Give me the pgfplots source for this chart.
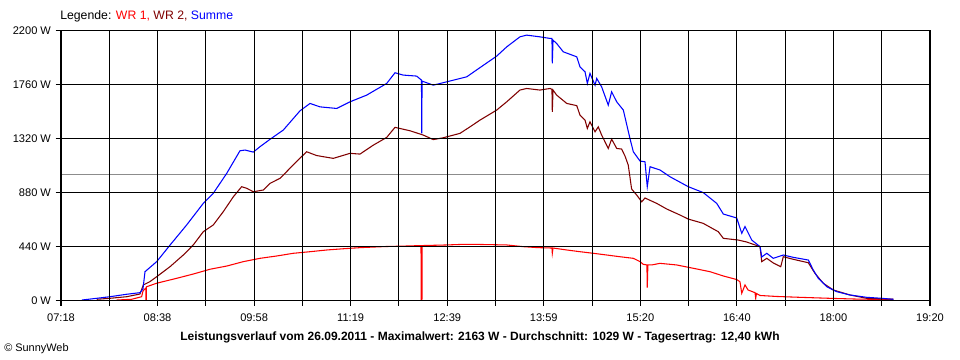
\documentclass[border=0pt]{standalone}
\usepackage{fontspec}
\setmainfont{Liberation Sans}
\usepackage{pgfplots}
\pgfplotsset{compat=1.18}
\definecolor{wrone}{RGB}{255,0,0}
\definecolor{wrtwo}{RGB}{128,0,0}
\definecolor{summe}{RGB}{0,0,255}
\definecolor{avggray}{RGB}{140,140,140}
\begin{document}
\begin{tikzpicture}
\useasboundingbox (0,0) rectangle (720pt,270pt);
\fill[white] (0,0) rectangle (720pt,270pt);
\begin{axis}[
  at={(45.75pt,44.8pt)}, anchor=south west,
  scale only axis, width=651.75pt, height=202.35pt,
  xmin=438, xmax=1160, ymin=0, ymax=2200,
  xtick={438,478.11,518.22,558.33,598.44,638.56,678.67,718.78,758.89,799,839.11,879.22,919.33,959.44,999.56,1039.67,1079.78,1119.89,1160},
  xticklabels={07:18,,08:38,,09:58,,11:19,,12:39,,13:59,,15:20,,16:40,,18:00,,19:20},
  ytick={0,440,880,1320,1760,2200},
  yticklabels={0 W,440 W,880 W,1320 W,1760 W,2200 W},
  grid=major, major grid style={black, line width=0.8pt},
  axis line style={black, line width=0.8pt},
  tick align=outside, major tick length=4pt,
  tick style={black, line width=0.8pt},
  xtick pos=left, ytick pos=left,
  xticklabel style={font=\fontsize{8.3}{9}\selectfont, yshift=-2.5pt},
  yticklabel style={font=\fontsize{8.3}{9}\selectfont},
  axis on top,
  clip=true,
]
\addplot[avggray, line width=0.8pt] coordinates {(438,1029) (1160,1029)};
\addplot[wrone, line width=0.8pt, sharp plot] coordinates {
(484.3,2) (496.7,8) (505.0,29) (506.1,75) (508.5,100) (508.6,0) (508.8,0) (509.0,110) (517.5,139) (534.1,179) (547.9,214) (561.8,253) (575.7,279) (589.5,315) (603.3,342) (617.2,361) (631.0,383) (644.9,396) (658.8,410) (672.5,420) (686.4,429) (707.2,438) (723.8,442) (737.1,446) (737.3,0) (737.9,0) (738.1,446) (758.4,451) (769.5,455) (786.1,455) (808.3,451) (822.1,437) (834.6,429) (845.9,426) (846.2,383) (846.8,426) (858.2,410) (869.2,396) (880.3,383) (891.4,369) (902.4,355) (913.5,342) (919.1,315) (921.8,293) (924.8,288) (925.1,103) (925.6,288) (928.8,288) (935.7,301) (949.5,288) (963.3,261) (977.2,233) (988.3,198) (999.4,169) (1002.1,151) (1003.6,57) (1006.3,125) (1008.8,84) (1014.6,62) (1015.2,16) (1015.8,55) (1018.8,39) (1032.6,31) (1052.0,24) (1079.6,15) (1101.8,9) (1129.3,7)
};
\addplot[wrtwo, line width=0.8pt, sharp plot] coordinates {
(467.7,8) (478.7,16) (492.6,29) (503.6,51) (506.4,125) (511.9,152) (517.5,192) (528.6,274) (539.6,369) (547.9,451) (556.2,559) (564.5,614) (572.8,722) (581.2,844) (588.1,926) (592.3,913) (597.8,885) (606.1,899) (611.6,953) (619.9,994) (628.2,1076) (636.6,1159) (642.1,1211) (650.4,1180) (664.2,1157) (678.1,1198) (686.4,1192) (697.5,1265) (708.6,1328) (715.5,1410) (728.0,1382) (739.0,1347) (747.3,1310) (755.6,1325) (769.5,1361) (777.8,1414) (786.1,1469) (800.0,1551) (808.3,1618) (819.3,1714) (824.9,1727) (835.9,1714) (844.3,1727) (845.9,1720) (846.2,1537) (846.8,1714) (849.8,1673) (858.2,1605) (866.5,1587) (869.2,1510) (873.4,1469) (875.3,1401) (877.5,1455) (881.7,1374) (884.4,1414) (887.2,1347) (892.7,1238) (895.5,1314) (899.7,1238) (903.8,1233) (906.6,1176) (909.3,1102) (912.1,907) (916.3,858) (920.5,803) (923.2,834) (932.9,790) (941.3,744) (952.3,695) (959.2,662) (971.6,627) (984.1,559) (988.3,505) (1000.7,491) (1007.7,475) (1018.8,437) (1020.2,315) (1024.4,342) (1029.8,304) (1036.0,274) (1038.1,355) (1046.4,334) (1058.9,306) (1064.4,220) (1071.3,139) (1079.6,84) (1093.5,43) (1107.4,16) (1129.5,8)
};
\addplot[summe, line width=0.8pt, sharp plot] coordinates {
(455.4,2) (467.7,16) (478.7,29) (492.6,49) (503.6,62) (506.1,92) (507.8,233) (517.5,315) (528.6,450) (542.4,614) (556.2,790) (564.5,872) (575.7,1035) (586.7,1219) (590.9,1225) (597.8,1208) (603.3,1252) (611.6,1312) (622.7,1388) (636.6,1545) (644.9,1605) (653.2,1577) (667.1,1564) (678.1,1618) (692.0,1673) (708.6,1768) (715.5,1855) (722.4,1836) (733.5,1828) (737.5,1795) (737.7,1361) (738.0,1787) (747.3,1754) (758.4,1781) (775.1,1822) (786.1,1897) (800.0,1991) (808.3,2066) (819.3,2148) (824.9,2162) (835.9,2148) (844.3,2135) (845.9,2135) (846.2,1931) (846.8,2121) (849.8,2094) (855.3,2026) (866.5,1985) (869.2,1903) (873.4,1863) (875.3,1768) (877.5,1850) (881.7,1754) (883.1,1809) (887.2,1740) (892.7,1591) (895.5,1700) (899.7,1618) (905.2,1551) (910.7,1320) (913.5,1211) (919.1,1135) (923.2,1129) (925.1,926) (927.4,1089) (935.7,1062) (944.0,1007) (959.2,926) (971.6,878) (982.8,790) (988.3,703) (999.4,671) (1003.6,546) (1006.3,601) (1011.9,491) (1018.8,437) (1020.2,353) (1024.4,383) (1029.8,342) (1038.1,369) (1046.4,350) (1058.9,328) (1063.0,247) (1067.2,179) (1074.2,111) (1082.5,70) (1093.5,43) (1107.4,24) (1119.9,16) (1129.5,8)
};
\end{axis}
\node[anchor=west, inner sep=0pt, font=\fontsize{9.2}{10}\selectfont] at (45pt,258pt) {Legende: \textcolor{wrone}{WR 1,} \textcolor{wrtwo}{WR 2,} \textcolor{summe}{Summe}};
\node[inner sep=0pt, font=\bfseries\fontsize{9}{10}\selectfont] at (360pt,17.25pt) {Leistungsverlauf vom 26.09.2011 - Maximalwert: 2163 W - Durchschnitt: 1029 W - Tagesertrag: 12,40 kWh};
\node[anchor=west, inner sep=0pt, font=\fontsize{8.2}{9}\selectfont] at (3pt,8.25pt) {© SunnyWeb};
\end{tikzpicture}
\end{document}
